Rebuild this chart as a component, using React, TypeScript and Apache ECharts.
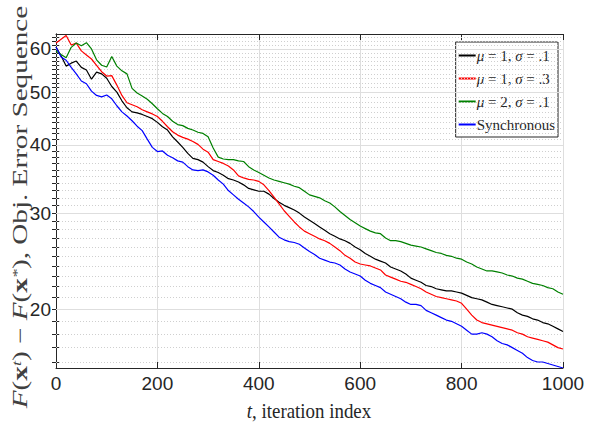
import React, { useEffect, useRef } from "react";
import * as echarts from "echarts";

const STEP = 10; // iteration spacing of the sampled values below

const SERIES_NAMES = ["μ = 1, σ = .1", "μ = 1, σ = .3", "μ = 2, σ = .1", "Synchronous"];
const SERIES_COLORS = ["#000000", "#ff0000", "#008000", "#0000ff"];

const BLACK = [
  60.5, 58.3, 55.8, 56.5, 57.0, 55.5, 54.9, 52.8, 54.4, 54.0,
  53.0, 51.2, 50.0, 48.2, 46.8, 46.0, 45.8, 45.5, 45.1, 44.7,
  44.0, 43.2, 42.6, 41.4, 40.5, 39.6, 38.6, 37.8, 37.6, 37.2,
  36.5, 35.9, 35.6, 35.2, 34.7, 34.5, 34.2, 33.8, 33.3, 33.1,
  32.9, 32.9, 32.5, 31.9, 31.4, 31.0, 30.7, 30.4, 30.0, 29.5,
  29.1, 28.7, 28.3, 27.9, 27.5, 27.2, 26.9, 26.7, 26.4, 26.0,
  25.7, 25.3, 25.0, 24.7, 24.5, 24.3, 23.9, 23.7, 23.5, 23.2,
  22.8, 22.6, 22.4, 22.1, 22.0, 21.8, 21.7, 21.6, 21.6, 21.5,
  21.4, 21.2, 21.0, 20.9, 20.8, 20.6, 20.4, 20.3, 20.2, 20.1,
  20.0, 19.7, 19.5, 19.4, 19.2, 19.1, 18.9, 18.8, 18.6, 18.4,
  18.2,
];

const RED = [
  61.5, 62.5, 63.5, 61.0, 61.5, 59.5, 58.5, 57.5, 56.0, 54.5,
  53.5, 53.6, 51.5, 49.3, 47.8, 47.4, 47.0, 46.4, 46.0, 45.6,
  45.1, 44.2, 43.2, 42.3, 41.7, 41.3, 41.0, 40.6, 40.1, 39.3,
  38.8, 37.6, 37.3, 37.0, 36.6, 36.0, 35.1, 34.8, 34.6, 34.5,
  34.3, 33.8, 33.0, 32.1, 31.2, 30.3, 29.6, 28.9, 28.3, 27.8,
  27.5, 27.2, 26.9, 26.7, 26.4, 26.0, 25.6, 25.1, 24.8, 24.4,
  24.2, 24.1, 24.0, 23.8, 23.6, 23.1, 22.9, 22.7, 22.5, 22.4,
  22.2, 22.0, 21.8, 21.5, 21.3, 21.1, 21.0, 20.9, 20.8, 20.7,
  20.5, 20.0, 19.5, 19.1, 18.9, 18.8, 18.7, 18.6, 18.5, 18.4,
  18.3, 18.1, 18.0, 17.8, 17.7, 17.6, 17.5, 17.4, 17.2, 17.0,
  16.9,
];

const GREEN = [
  59.5, 58.6, 57.8, 60.4, 61.5, 60.8, 61.6, 60.0, 57.3, 56.0,
  55.6, 58.1, 55.8, 54.7, 54.0, 50.8, 49.8, 49.2, 48.5, 47.6,
  46.6, 45.7, 45.1, 44.2, 43.6, 43.4, 42.9, 42.6, 42.2, 42.0,
  41.4, 39.5, 38.0, 37.7, 37.6, 37.6, 37.4, 37.3, 36.5, 36.0,
  35.6, 35.2, 34.8, 34.5, 34.3, 34.1, 33.9, 33.6, 33.4, 32.9,
  32.4, 32.2, 32.0, 31.6, 31.3, 30.8, 30.2, 29.7, 29.2, 28.8,
  28.4, 28.1, 27.8, 27.6, 27.5, 27.0, 26.7, 26.7, 26.6, 26.4,
  26.2, 26.1, 26.0, 25.8, 25.6, 25.4, 25.3, 25.1, 25.0, 24.8,
  24.7, 24.4, 24.2, 23.9, 23.7, 23.5, 23.5, 23.4, 23.3, 23.1,
  23.0, 22.8, 22.7, 22.5, 22.3, 22.2, 22.1, 21.9, 21.8, 21.5,
  21.3,
];

const BLUE = [
  60.5, 58.0, 57.2, 55.5, 54.0, 52.4, 51.8, 50.2, 49.3, 49.0,
  49.4, 48.6, 47.2, 46.0, 45.2, 44.3, 43.3, 42.5, 41.0, 39.6,
  38.9, 39.0, 38.3, 37.9, 37.4, 37.2, 36.5, 36.0, 35.9, 36.0,
  35.7, 35.2, 34.5, 33.9, 33.0, 32.4, 31.8, 31.3, 30.8, 30.2,
  29.5, 28.9, 28.3, 27.7, 27.1, 26.8, 26.6, 26.5, 26.3, 25.9,
  25.5, 25.2, 24.8, 24.6, 24.4, 24.3, 24.1, 23.7, 23.4, 23.2,
  23.0, 22.6, 22.3, 22.1, 21.9, 21.5, 21.3, 21.1, 20.9, 20.6,
  20.4, 20.4, 20.3, 19.9, 19.7, 19.5, 19.3, 19.1, 19.0, 18.8,
  18.6, 18.3, 18.0, 18.0, 18.1, 18.0, 17.8, 17.5, 17.3, 17.2,
  17.0, 16.8, 16.6, 16.3, 16.1, 16.0, 16.0, 15.9, 15.8, 15.7,
  15.6,
];

const X_MIN = 0;
const X_MAX = 1000;
const X_INTERVAL = 200;
const Y_MIN = 15.6;
const Y_MAX = 63.9;
const Y_MAJOR = [20, 30, 40, 50, 60];
const Y_MINOR = [
  16, 17, 18, 19, 21, 22, 23, 24, 25, 26, 27, 28, 29,
  31, 32, 33, 34, 35, 36, 37, 38, 39, 41, 42, 43, 44, 45, 46, 47, 48, 49,
  51, 52, 53, 54, 55, 56, 57, 58, 59, 61, 62, 63,
];
const Y_ALL_TICKS = [...Y_MAJOR, ...Y_MINOR].sort((a, b) => a - b);

const X_TITLE = "{i|t}, iteration index";
const Y_TITLE = "{i|F}({b|x}{s|t}) − {i|F}({b|x}{s|*}), Obj. Error Sequence";

const AXIS_COLOR = "#262626";
const LABEL_FONT = "'Liberation Sans Narrow', 'Liberation Sans', Arial, sans-serif";
const SERIF = "'Liberation Serif', 'DejaVu Serif', serif";

export default function App() {
  const ref = useRef<HTMLDivElement>(null);

  useEffect(() => {
    if (!ref.current) return;
    const chart = echarts.init(ref.current, undefined, { renderer: "svg" });
    const values = [BLACK, RED, GREEN, BLUE];

    const lineSeries = values.map((arr, k) => ({
      name: SERIES_NAMES[k],
      type: "line",
      data: arr.map((v, i) => [i * STEP, v]),
      symbol: "none",
      showSymbol: false,
      lineStyle: { color: SERIES_COLORS[k], width: 1.2, type: "solid" },
      itemStyle: { color: SERIES_COLORS[k] },
      z: 5,
      silent: true,
    }));

    const gridHolder = {
      name: "__grid",
      type: "line",
      data: [],
      z: 1,
      silent: true,
      markLine: {
        silent: true,
        symbol: ["none", "none"],
        label: { show: false },
        animation: false,
        data: [
          ...Y_MINOR.map((v) => ({
            yAxis: v,
            lineStyle: { type: [1, 2], color: "#cfcfcf", width: 1 },
          })),
          ...Y_MAJOR.map((v) => ({
            yAxis: v,
            lineStyle: { type: "solid", color: "#dedede", width: 1 },
          })),
        ],
      },
    };

    const yBase = {
      type: "log",
      logBase: 10,
      min: Y_MIN,
      max: Y_MAX,
      axisLine: { show: true, lineStyle: { color: AXIS_COLOR, width: 1 } },
      axisTick: {
        show: true,
        inside: true,
        length: 4,
        customValues: Y_ALL_TICKS,
        lineStyle: { color: AXIS_COLOR },
      },
      splitLine: { show: false },
      minorTick: { show: false },
      minorSplitLine: { show: false },
    };

    chart.setOption({
      animation: false,
      backgroundColor: "#ffffff",
      grid: { left: 56, right: 33, top: 34, bottom: 62, containLabel: false },
      legend: {
        data: SERIES_NAMES,
        orient: "vertical",
        right: 38,
        top: 42,
        backgroundColor: "#ffffff",
        borderColor: AXIS_COLOR,
        borderWidth: 1,
        borderRadius: 0,
        padding: [6, 3, 5, 2],
        itemGap: 8,
        itemWidth: 17,
        itemHeight: 10,
        selectedMode: false,
        itemStyle: { opacity: 0 },
        lineStyle: { width: 2, type: "solid", cap: "butt" },
        formatter: (name: string) => name.replace("μ", "{m|μ}").replace("σ", "{m|σ}"),
        textStyle: {
          fontFamily: SERIF,
          fontSize: 15,
          color: AXIS_COLOR,
          padding: [0, 0, 0, -4],
          rich: {
            m: { fontFamily: SERIF, fontStyle: "italic", fontSize: 15, color: AXIS_COLOR },
          },
        },
      },
      xAxis: [
        {
          type: "value",
          min: X_MIN,
          max: X_MAX,
          interval: X_INTERVAL,
          axisLine: { show: true, lineStyle: { color: AXIS_COLOR } },
          axisTick: { show: true, inside: true, length: 6, lineStyle: { color: AXIS_COLOR } },
          axisLabel: {
            color: AXIS_COLOR,
            fontSize: 19,
            fontFamily: LABEL_FONT,
            margin: 6,
            formatter: (v: number) => String(v),
          },
          splitLine: { show: true, lineStyle: { color: "#dedede", width: 1, type: "solid" } },
        },
        {
          type: "value",
          position: "top",
          min: X_MIN,
          max: X_MAX,
          interval: X_INTERVAL,
          axisLine: { show: true, lineStyle: { color: AXIS_COLOR } },
          axisTick: { show: true, inside: true, length: 6, lineStyle: { color: AXIS_COLOR } },
          axisLabel: { show: false },
          splitLine: { show: false },
        },
      ],
      yAxis: [
        {
          ...yBase,
          position: "left",
          axisLabel: {
            show: true,
            customValues: Y_MAJOR,
            color: AXIS_COLOR,
            fontSize: 19,
            fontFamily: LABEL_FONT,
            margin: 5,
            formatter: (v: number) => String(Math.round(v)),
          },
        },
        {
          ...yBase,
          position: "right",
          axisLabel: { show: false },
        },
      ],
      series: [gridHolder, ...lineSeries],
      graphic: [
        {
          type: "text",
          x: 309,
          y: 411,
          scaleX: 0.9,
          style: {
            text: X_TITLE,
            align: "center",
            verticalAlign: "middle",
            fontFamily: SERIF,
            fontSize: 21,
            fill: AXIS_COLOR,
            rich: {
              i: { fontFamily: SERIF, fontStyle: "italic", fontSize: 21, fill: AXIS_COLOR },
            },
          },
        },
        {
          type: "text",
          x: 20,
          y: 207,
          rotation: Math.PI / 2,
          scaleX: 1.39,
          style: {
            text: Y_TITLE,
            align: "center",
            verticalAlign: "middle",
            fontFamily: SERIF,
            fontSize: 21,
            fill: "#404040",
            rich: {
              i: { fontFamily: SERIF, fontStyle: "italic", fontSize: 21, fill: "#404040" },
              b: { fontFamily: SERIF, fontWeight: "bold", fontSize: 21, fill: "#404040" },
              s: { fontFamily: SERIF, fontStyle: "italic", fontSize: 13, fill: "#404040", verticalAlign: "top" },
            },
          },
        },
      ],
    });

    return () => chart.dispose();
  }, []);

  return (
    <div
      ref={ref}
      style={{ position: "fixed", left: 0, top: 0, width: 596, height: 430 }}
    />
  );
}
